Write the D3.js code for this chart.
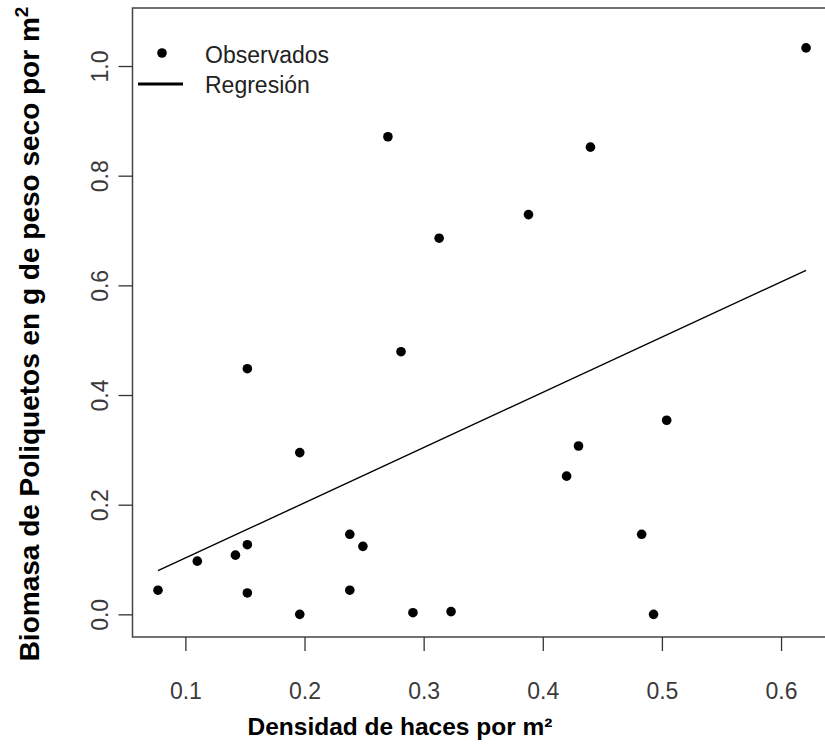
<!DOCTYPE html>
<html>
<head>
<meta charset="utf-8">
<script src="https://cdn.jsdelivr.net/npm/d3@7"></script>
<style>
  body { margin: 0; background: #fff; }
  svg { display: block; font-family: "Liberation Sans", Arial, sans-serif; }
</style>
</head>
<body>
<div id="chart"></div>
<script>
// observed points: densidad (x) and biomasa (y)
const densidad = [0.077, 0.110, 0.142, 0.152, 0.152, 0.152, 0.196, 0.196, 0.238, 0.238, 0.249, 0.270,
  0.281, 0.291, 0.313, 0.323, 0.388, 0.420, 0.430, 0.440, 0.483, 0.493, 0.504, 0.621];
const biomasa = [0.044, 0.097, 0.108, 0.127, 0.448, 0.039, 0.295, 0.000, 0.146, 0.044, 0.124, 0.871,
  0.479, 0.003, 0.686, 0.005, 0.729, 0.252, 0.307, 0.852, 0.146, 0.000, 0.354, 1.033];
// fitted line: intercept, slope
const regresion = [0.002, 1.007];
const xTicks = [0.1, 0.2, 0.3, 0.4, 0.5, 0.6];
const yTicks = [0.0, 0.2, 0.4, 0.6, 0.8, 1.0];
const legendLabels = ["Observados", "Regresión"];

const width = 825, height = 745;
const svg = d3.select("#chart").append("svg").attr("width", width).attr("height", height);

const x = d3.scaleLinear().domain([0.0556, 0.6432]).range([132.5, 832.5]);
const y = d3.scaleLinear().domain([-0.0413, 1.1058]).range([637, 8]);

// plot box
svg.append("rect")
  .attr("x", x.range()[0]).attr("y", y.range()[1])
  .attr("width", x.range()[1] - x.range()[0])
  .attr("height", y.range()[0] - y.range()[1])
  .attr("fill", "none").attr("stroke", "#444").attr("stroke-width", 1.5);

// x axis
const xAxis = svg.append("g")
  .attr("transform", `translate(0,${y.range()[0]})`)
  .call(d3.axisBottom(x).tickValues(xTicks).tickFormat(d3.format(".1f")).tickSize(14));
xAxis.select(".domain").remove();
xAxis.selectAll("line").attr("stroke", "#333").attr("stroke-width", 1.3);
xAxis.selectAll("text")
  .attr("fill", "#3a3a3a").style("font-size", "23px")
  .attr("y", 62).attr("dy", null);

// y axis, labels rotated like R
const yAxis = svg.append("g")
  .attr("transform", `translate(${x.range()[0]},0)`)
  .call(d3.axisLeft(y).tickValues(yTicks).tickFormat(d3.format(".1f")).tickSize(14));
yAxis.select(".domain").remove();
yAxis.selectAll("line").attr("stroke", "#333").attr("stroke-width", 1.3);
yAxis.selectAll(".tick text")
  .attr("fill", "#3a3a3a").style("font-size", "23px")
  .attr("text-anchor", "middle").attr("dy", null).attr("x", 0).attr("y", 0)
  .attr("transform", "translate(-25,0) rotate(-90)");

// regression line over the data range
const xr = d3.extent(densidad);
svg.append("line")
  .attr("x1", x(xr[0])).attr("y1", y(regresion[0] + regresion[1] * xr[0]))
  .attr("x2", x(xr[1])).attr("y2", y(regresion[0] + regresion[1] * xr[1]))
  .attr("stroke", "#000").attr("stroke-width", 1.4);

// points
svg.selectAll("circle.pt")
  .data(densidad.map((d, i) => [d, biomasa[i]]))
  .join("circle")
  .attr("class", "pt")
  .attr("cx", d => x(d[0]))
  .attr("cy", d => y(d[1]))
  .attr("r", 4.8)
  .attr("fill", "#000");

// legend
const lg = svg.append("g");
lg.append("circle").attr("cx", 162).attr("cy", 53).attr("r", 4.8).attr("fill", "#000");
lg.append("line").attr("x1", 138).attr("x2", 183).attr("y1", 84).attr("y2", 84)
  .attr("stroke", "#000").attr("stroke-width", 3);
lg.selectAll("text")
  .data(legendLabels)
  .join("text")
  .attr("x", 205)
  .attr("y", (d, i) => 55 + i * 30)
  .attr("dy", "0.35em")
  .attr("fill", "#222")
  .style("font-size", "23px")
  .text(d => d);

// axis titles
svg.append("text")
  .attr("x", 400).attr("y", 735)
  .attr("text-anchor", "middle")
  .style("font-size", "24.5px").style("font-weight", "bold")
  .text("Densidad de haces por m²");

const yt = svg.append("text")
  .attr("transform", "translate(39,334) rotate(-90)")
  .attr("text-anchor", "middle")
  .style("font-size", "28px").style("font-weight", "bold");
yt.append("tspan").text("Biomasa de Poliquetos en g de peso seco por m");
yt.append("tspan").attr("dy", -11).style("font-size", "19px").text("2");
</script>
</body>
</html>
